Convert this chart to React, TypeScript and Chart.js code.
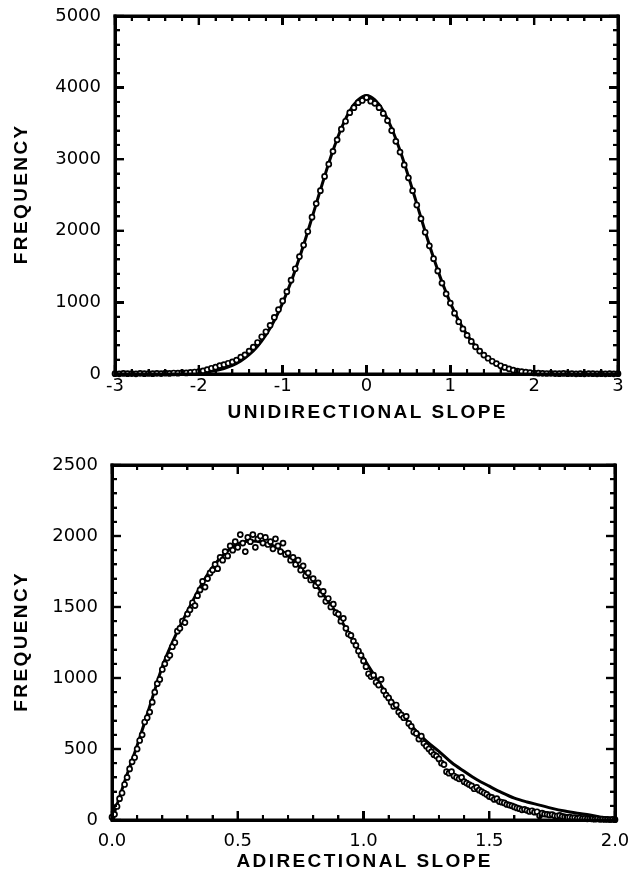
import React, { useEffect, useRef, useState } from 'react';
import { Chart, registerables } from 'chart.js';

Chart.register(...registerables);

// ---------- Top panel: unidirectional slope ----------
const uniX = [
  -3.00, -2.95, -2.90, -2.85, -2.80, -2.75, -2.70, -2.65, -2.60, -2.55,
  -2.50, -2.45, -2.40, -2.35, -2.30, -2.25, -2.20, -2.15, -2.10, -2.05,
  -2.00, -1.95, -1.90, -1.85, -1.80, -1.75, -1.70, -1.65, -1.60, -1.55,
  -1.50, -1.45, -1.40, -1.35, -1.30, -1.25, -1.20, -1.15, -1.10, -1.05,
  -1.00, -0.95, -0.90, -0.85, -0.80, -0.75, -0.70, -0.65, -0.60, -0.55,
  -0.50, -0.45, -0.40, -0.35, -0.30, -0.25, -0.20, -0.15, -0.10, -0.05,
  0.00,
  0.05, 0.10, 0.15, 0.20, 0.25, 0.30, 0.35, 0.40, 0.45, 0.50,
  0.55, 0.60, 0.65, 0.70, 0.75, 0.80, 0.85, 0.90, 0.95, 1.00,
  1.05, 1.10, 1.15, 1.20, 1.25, 1.30, 1.35, 1.40, 1.45, 1.50,
  1.55, 1.60, 1.65, 1.70, 1.75, 1.80, 1.85, 1.90, 1.95, 2.00,
  2.05, 2.10, 2.15, 2.20, 2.25, 2.30, 2.35, 2.40, 2.45, 2.50,
  2.55, 2.60, 2.65, 2.70, 2.75, 2.80, 2.85, 2.90, 2.95, 3.00,
];
const uniCounts = [
  5, 3, 8, 4, 6, 2, 9, 5, 7, 4, 10, 6, 12, 8, 14, 11, 18, 15, 24, 28,
  35, 45, 62, 80, 95, 118, 130, 150, 168, 195, 235, 268, 320, 375, 440, 520, 590, 680, 790, 900,
  1020, 1150, 1310, 1470, 1640, 1800, 1990, 2190, 2380, 2560, 2760, 2930, 3110, 3270, 3420, 3530, 3650, 3720, 3790, 3820,
  3860,
  3810, 3780, 3720, 3640, 3540, 3400, 3250, 3100, 2920, 2740, 2560, 2360, 2170, 1980, 1790, 1610, 1440, 1270, 1120, 990,
  850, 730, 630, 540, 455, 380, 320, 265, 220, 178, 145, 115, 92, 72, 55, 42, 33, 25, 18, 14,
  11, 9, 7, 10, 6, 5, 8, 4, 6, 3, 5, 2, 6, 4, 3, 5, 2, 4, 3, 5,
];
const uniFitX = [
  -3.0, -2.9, -2.8, -2.7, -2.6, -2.5, -2.4, -2.3, -2.2, -2.1,
  -2.0, -1.9, -1.8, -1.7, -1.6, -1.5, -1.4, -1.3, -1.2, -1.1,
  -1.0, -0.9, -0.8, -0.7, -0.6, -0.5, -0.4, -0.3, -0.2, -0.1,
  0.0,
  0.1, 0.2, 0.3, 0.4, 0.5, 0.6, 0.7, 0.8, 0.9, 1.0,
  1.1, 1.2, 1.3, 1.4, 1.5, 1.6, 1.7, 1.8, 1.9, 2.0,
  2.1, 2.2, 2.3, 2.4, 2.5, 2.6, 2.7, 2.8, 2.9, 3.0,
];
const uniFit = [
  0, 0, 0, 0, 1, 1, 2, 3, 5, 10,
  17, 28, 47, 76, 119, 181, 269, 388, 546, 747,
  994, 1287, 1623, 1991, 2376, 2760, 3120, 3432, 3674, 3828,
  3890,
  3828, 3674, 3432, 3120, 2760, 2376, 1991, 1623, 1287, 994,
  747, 546, 388, 269, 181, 119, 76, 47, 28, 17,
  10, 5, 3, 2, 1, 1, 0, 0, 0, 0,
];
const uniXTicks = [-3, -2, -1, 0, 1, 2, 3];
const uniXTickLabels = ['-3', '-2', '-1', '0', '1', '2', '3'];
const uniYTicks = [0, 1000, 2000, 3000, 4000, 5000];
const uniYTickLabels = ['0', '1000', '2000', '3000', '4000', '5000'];

// ---------- Bottom panel: adirectional slope ----------
const adiX = [
  0.00, 0.01, 0.02, 0.03, 0.04, 0.05, 0.06, 0.07, 0.08, 0.09,
  0.10, 0.11, 0.12, 0.13, 0.14, 0.15, 0.16, 0.17, 0.18, 0.19,
  0.20, 0.21, 0.22, 0.23, 0.24, 0.25, 0.26, 0.27, 0.28, 0.29,
  0.30, 0.31, 0.32, 0.33, 0.34, 0.35, 0.36, 0.37, 0.38, 0.39,
  0.40, 0.41, 0.42, 0.43, 0.44, 0.45, 0.46, 0.47, 0.48, 0.49,
  0.50, 0.51, 0.52, 0.53, 0.54, 0.55, 0.56, 0.57, 0.58, 0.59,
  0.60, 0.61, 0.62, 0.63, 0.64, 0.65, 0.66, 0.67, 0.68, 0.69,
  0.70, 0.71, 0.72, 0.73, 0.74, 0.75, 0.76, 0.77, 0.78, 0.79,
  0.80, 0.81, 0.82, 0.83, 0.84, 0.85, 0.86, 0.87, 0.88, 0.89,
  0.90, 0.91, 0.92, 0.93, 0.94, 0.95, 0.96, 0.97, 0.98, 0.99,
  1.00, 1.01, 1.02, 1.03, 1.04, 1.05, 1.06, 1.07, 1.08, 1.09,
  1.10, 1.11, 1.12, 1.13, 1.14, 1.15, 1.16, 1.17, 1.18, 1.19,
  1.20, 1.21, 1.22, 1.23, 1.24, 1.25, 1.26, 1.27, 1.28, 1.29,
  1.30, 1.31, 1.32, 1.33, 1.34, 1.35, 1.36, 1.37, 1.38, 1.39,
  1.40, 1.41, 1.42, 1.43, 1.44, 1.45, 1.46, 1.47, 1.48, 1.49,
  1.50, 1.51, 1.52, 1.53, 1.54, 1.55, 1.56, 1.57, 1.58, 1.59,
  1.60, 1.61, 1.62, 1.63, 1.64, 1.65, 1.66, 1.67, 1.68, 1.69,
  1.70, 1.71, 1.72, 1.73, 1.74, 1.75, 1.76, 1.77, 1.78, 1.79,
  1.80, 1.81, 1.82, 1.83, 1.84, 1.85, 1.86, 1.87, 1.88, 1.89,
  1.90, 1.91, 1.92, 1.93, 1.94, 1.95, 1.96, 1.97, 1.98, 1.99,
  2.00,
];
const adiCounts = [
  20, 40, 95, 150, 190, 250,
  300, 360, 410, 440, 500,
  560, 600, 690, 720, 760,
  830, 900, 960, 990, 1060,
  1100, 1140, 1160, 1220, 1250,
  1330, 1350, 1400, 1390, 1450,
  1480, 1530, 1510, 1580, 1620,
  1680, 1640, 1700, 1740, 1760,
  1800, 1770, 1850, 1830, 1890,
  1860, 1930, 1900, 1960, 1920,
  2010, 1950, 1890, 1990, 1960,
  2010, 1920, 1980, 2000, 1950,
  1990, 1940, 1960, 1910, 1980,
  1930, 1890, 1950, 1870, 1880,
  1830, 1850, 1800, 1830, 1760,
  1790, 1720, 1740, 1690, 1700,
  1650, 1670, 1590, 1610, 1540,
  1560, 1500, 1520, 1460, 1450,
  1400, 1420, 1350, 1310, 1300,
  1260, 1230, 1190, 1160, 1120,
  1080, 1030, 1010, 1020, 970,
  950, 990, 910, 880, 860,
  830, 800, 810, 760, 740,
  720, 730, 680, 660, 620,
  610, 570, 590, 540, 520,
  500, 480, 460, 450, 430,
  400, 390, 340, 330, 340,
  310, 300, 290, 300, 270,
  260, 250, 240, 220, 230,
  210, 200, 190, 180, 165,
  160, 145, 150, 130, 125,
  120, 110, 105, 100, 92,
  85, 80, 72, 75, 68,
  60, 65, 55, 58, 30,
  48, 42, 40, 36, 38,
  30, 28, 32, 25, 22,
  18, 20, 15, 17, 12,
  14, 10, 11, 8, 9,
  7, 6, 8, 5, 6,
  4, 5, 3, 4, 2,
];
const adiFitX = [
  0.00, 0.05, 0.10, 0.15, 0.20, 0.25, 0.30, 0.35, 0.40, 0.45,
  0.50, 0.55, 0.60, 0.65, 0.70, 0.75, 0.80, 0.85, 0.90, 0.95,
  1.00, 1.05, 1.10, 1.15, 1.20, 1.25, 1.30, 1.35, 1.40, 1.45,
  1.50, 1.55, 1.60, 1.65, 1.70, 1.75, 1.80, 1.85, 1.90, 1.95,
  2.00,
];
const adiFit = [
  0, 270, 525, 800, 1080, 1290, 1470, 1640, 1780, 1880,
  1945, 1965, 1955, 1925, 1860, 1775, 1680, 1565, 1437, 1290,
  1140, 1000, 870, 755, 645, 555, 483, 405, 343, 285,
  238, 193, 154, 127, 105, 82, 63, 48, 35, 18,
  5,
];
const adiXTicks = [0, 0.5, 1.0, 1.5, 2.0];
const adiXTickLabels = ['0.0', '0.5', '1.0', '1.5', '2.0'];
const adiYTicks = [0, 500, 1000, 1500, 2000, 2500];
const adiYTickLabels = ['0', '500', '1000', '1500', '2000', '2500'];

const TICK_FONT_CSS = '18px "DejaVu Sans", sans-serif';
const TITLE_FONT = 'bold 19px "Liberation Sans", Arial, sans-serif';

type PanelSpec = {
  width: number;
  height: number;
  xs: number[];
  ys: number[];
  fitXs: number[];
  fitYs: number[];
  xMin: number;
  xMax: number;
  yMin: number;
  yMax: number;
  xTicks: number[];
  xLabels: string[];
  yTicks: number[];
  yLabels: string[];
  left: number;
  top: number;
  right: number;
  bottom: number;
  xLabelOffset: number;
  xTitle: string;
  yTitle: string;
  xTitleY: number;
  xMinor: number;
  xSub: number;
  yMinor: number;
  ySub: number;
};

type Mark = { x: number; y: number; w: number; h: number };

function zeroPad(s: any) {
  s.paddingTop = 0;
  s.paddingBottom = 0;
  s.paddingLeft = 0;
  s.paddingRight = 0;
}

// Frame + inward tick marks, positioned through the chart's own scales.
function computeMarks(chart: any, p: PanelSpec): Mark[] {
  const a = chart.chartArea;
  const xs = chart.scales.x;
  const ys = chart.scales.y;
  const L = a.left, R = a.right, T = a.top, B = a.bottom;
  const out: Mark[] = [];
  const nx = Math.round((p.xMax - p.xMin) / p.xMinor);
  for (let i = 0; i <= nx; i++) {
    const v = p.xMin + i * p.xMinor;
    const major = i % p.xSub === 0;
    const len = major ? 9 : 5;
    const w = major ? 2.4 : 2;
    const px = xs.getPixelForValue(v);
    out.push({ x: px - w / 2, y: B - len, w, h: len });
    out.push({ x: px - w / 2, y: T, w, h: len });
  }
  const ny = Math.round((p.yMax - p.yMin) / p.yMinor);
  for (let i = 0; i <= ny; i++) {
    const v = p.yMin + i * p.yMinor;
    const major = i % p.ySub === 0;
    const len = major ? 9 : 5;
    const w = major ? 2.4 : 2;
    const py = ys.getPixelForValue(v);
    out.push({ x: L, y: py - w / 2, w: len, h: w });
    out.push({ x: R - len, y: py - w / 2, w: len, h: w });
  }
  const bw = 3;
  out.push({ x: L - bw / 2, y: T - bw / 2, w: R - L + bw, h: bw });
  out.push({ x: L - bw / 2, y: B - bw / 2, w: R - L + bw, h: bw });
  out.push({ x: L - bw / 2, y: T - bw / 2, w: bw, h: B - T + bw });
  out.push({ x: R - bw / 2, y: T - bw / 2, w: bw, h: B - T + bw });
  return out;
}

function makeTextPlugin(p: PanelSpec) {
  return {
    id: 'panelText',
    afterDraw(chart: any) {
      const ctx = chart.ctx;
      const a = chart.chartArea;
      const xs = chart.scales.x;
      const L = a.left, R = a.right, T = a.top, B = a.bottom;
      ctx.save();
      ctx.fillStyle = '#000000';
      // frame and ticks on the canvas as well
      computeMarks(chart, p).forEach((m) => ctx.fillRect(m.x, m.y, m.w, m.h));
      // x tick labels
      ctx.font = TICK_FONT_CSS;
      ctx.textAlign = 'center';
      ctx.textBaseline = 'middle';
      p.xTicks.forEach((v, i) => {
        ctx.fillText(p.xLabels[i], xs.getPixelForValue(v), B + p.xLabelOffset);
      });
      // axis titles
      ctx.font = TITLE_FONT;
      const sp = 2.4;
      (ctx as any).letterSpacing = sp + 'px';
      ctx.textAlign = 'left';
      ctx.textBaseline = 'middle';
      const wx = ctx.measureText(p.xTitle).width - sp;
      ctx.fillText(p.xTitle, (L + R) / 2 - wx / 2, p.xTitleY);
      ctx.translate(22, (T + B) / 2);
      ctx.rotate(-Math.PI / 2);
      const wy = ctx.measureText(p.yTitle).width - sp;
      ctx.fillText(p.yTitle, -wy / 2, 0);
      (ctx as any).letterSpacing = '0px';
      ctx.restore();
    },
  };
}

function makeConfig(p: PanelSpec): any {
  return {
    type: 'scatter',
    data: {
      datasets: [
        {
          data: p.xs.map((x, i) => ({ x, y: p.ys[i] })),
          showLine: false,
          pointRadius: 2.5,
          pointBorderWidth: 1.7,
          pointBackgroundColor: '#fff',
          pointBorderColor: '#000',
          pointHoverRadius: 2.5,
          clip: false,
          order: 0,
        },
        {
          data: p.fitXs.map((x, i) => ({ x, y: p.fitYs[i] })),
          showLine: true,
          borderColor: '#000',
          borderWidth: 3,
          pointRadius: 0,
          pointHoverRadius: 0,
          cubicInterpolationMode: 'monotone',
          order: 1,
        },
      ],
    },
    options: {
      animation: false,
      responsive: false,
      devicePixelRatio: 1,
      events: [],
      layout: { padding: { left: 0, top: p.top, right: p.width - p.right, bottom: 0 } },
      plugins: {
        legend: { display: false },
        tooltip: { enabled: false },
      },
      scales: {
        x: {
          type: 'linear',
          min: p.xMin,
          max: p.xMax,
          ticks: { display: false },
          grid: { display: false, drawTicks: false },
          border: { display: false },
          afterFit: (s: any) => {
            s.height = p.height - p.bottom;
            zeroPad(s);
          },
        },
        y: {
          type: 'linear',
          min: p.yMin,
          max: p.yMax,
          afterBuildTicks: (s: any) => {
            s.ticks = p.yTicks.map((v) => ({ value: v }));
          },
          ticks: {
            autoSkip: false,
            color: '#000',
            font: { family: '"DejaVu Sans", sans-serif', size: 18 },
            padding: 14,
            callback: (_v: any, i: number) => p.yLabels[i],
          },
          grid: { display: false, drawTicks: false },
          border: { display: false },
          afterFit: (s: any) => {
            s.width = p.left;
            zeroPad(s);
          },
        },
      },
    },
    plugins: [makeTextPlugin(p)],
  };
}

function Panel({ spec, top }: { spec: PanelSpec; top: number }) {
  const ref = useRef<HTMLCanvasElement | null>(null);
  const [marks, setMarks] = useState<Mark[]>([]);
  useEffect(() => {
    if (!ref.current) return;
    const chart = new Chart(ref.current, makeConfig(spec));
    setMarks(computeMarks(chart, spec));
    return () => chart.destroy();
  }, [spec]);
  return (
    <div style={{ position: 'absolute', left: 0, top, width: spec.width, height: spec.height }}>
      <canvas ref={ref} width={spec.width} height={spec.height} style={{ display: 'block' }} />
      {marks.map((m, i) => (
        <div
          key={i}
          style={{
            position: 'absolute',
            left: m.x,
            top: m.y,
            width: m.w,
            height: m.h,
            background: '#000',
            pointerEvents: 'none',
          }}
        />
      ))}
    </div>
  );
}

const topSpec: PanelSpec = {
  width: 629,
  height: 440,
  xs: uniX,
  ys: uniCounts,
  fitXs: uniFitX,
  fitYs: uniFit,
  xMin: -3,
  xMax: 3,
  yMin: 0,
  yMax: 5000,
  xTicks: uniXTicks,
  xLabels: uniXTickLabels,
  yTicks: uniYTicks,
  yLabels: uniYTickLabels,
  left: 115,
  top: 16,
  right: 618,
  bottom: 374,
  xLabelOffset: 12,
  xTitle: 'UNIDIRECTIONAL SLOPE',
  yTitle: 'FREQUENCY',
  xTitleY: 413,
  xMinor: 0.2,
  xSub: 5,
  yMinor: 200,
  ySub: 5,
};

const bottomSpec: PanelSpec = {
  width: 629,
  height: 438,
  xs: adiX,
  ys: adiCounts,
  fitXs: adiFitX,
  fitYs: adiFit,
  xMin: 0,
  xMax: 2,
  yMin: 0,
  yMax: 2500,
  xTicks: adiXTicks,
  xLabels: adiXTickLabels,
  yTicks: adiYTicks,
  yLabels: adiYTickLabels,
  left: 112,
  top: 25,
  right: 615,
  bottom: 380,
  xLabelOffset: 21,
  xTitle: 'ADIRECTIONAL SLOPE',
  yTitle: 'FREQUENCY',
  xTitleY: 422,
  xMinor: 0.1,
  xSub: 5,
  yMinor: 100,
  ySub: 5,
};

export default function App() {
  return (
    <div style={{ position: 'absolute', left: 0, top: 0, width: 629, height: 878, background: '#fff' }}>
      <Panel spec={topSpec} top={0} />
      <Panel spec={bottomSpec} top={440} />
    </div>
  );
}
